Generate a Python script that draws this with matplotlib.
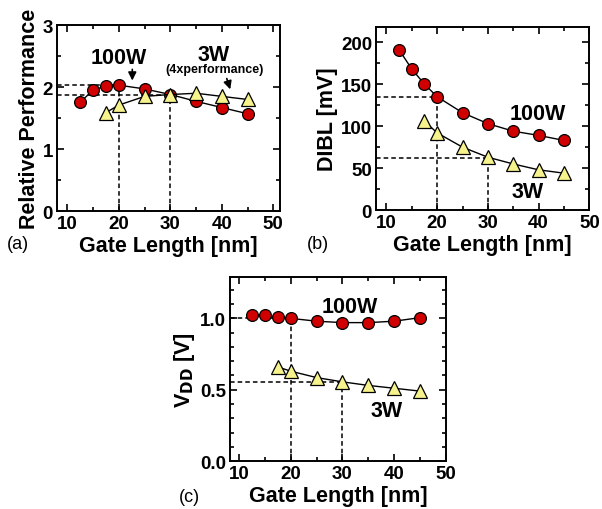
import numpy as np
import matplotlib.pyplot as plt
from matplotlib.ticker import MultipleLocator

plt.rcParams['font.family'] = ['Liberation Sans', 'DejaVu Sans']
plt.rcParams['font.weight'] = 'bold'

# Gate lengths [nm]
L_100W = [12.5, 15, 17.5, 20, 25, 30, 35, 40, 45]
L_3W = [17.5, 20, 25, 30, 35, 40, 45]

# (a) relative performance
perf_100W = [1.76, 1.95, 2.02, 2.03, 1.97, 1.88, 1.77, 1.67, 1.57]
perf_3W = [1.59, 1.71, 1.85, 1.88, 1.90, 1.85, 1.80]

# (b) DIBL [mV]
dibl_100W = [191, 168, 150, 135, 116, 103, 94, 89, 83]
dibl_3W = [106, 92, 75, 63, 55, 48, 44]

# (c) VDD [V]
vdd_100W = [1.02, 1.02, 1.01, 1.00, 0.98, 0.97, 0.97, 0.98, 1.005]
vdd_3W = [0.66, 0.63, 0.585, 0.555, 0.53, 0.51, 0.49]

# operating points marked by dashed guides: (x, y)
guides_a = [(20, 2.03), (30, 1.88)]
guides_b = [(20, 135), (30, 62)]
guides_c = [(20, 1.00), (30, 0.555)]

red = '#d00000'
yellow = '#f6f28c'

fig = plt.figure(figsize=(6.02, 5.10), dpi=100)
ax_a = fig.add_axes([0.095, 0.584, 0.370, 0.365])
ax_b = fig.add_axes([0.625, 0.586, 0.354, 0.359])
ax_c = fig.add_axes([0.382, 0.094, 0.359, 0.361])


def draw(ax, y100, y3, guides, xlim, ylim):
    for gx, gy in guides:
        ax.plot([xlim[0], gx], [gy, gy], ls=(0, (3, 2)), color='k', lw=1.1, zorder=1)
        ax.plot([gx, gx], [ylim[0], gy], ls=(0, (3, 2)), color='k', lw=1.1, zorder=1)
    ax.plot(L_100W, y100, '-', color='k', lw=1.0, marker='o', ms=8.5,
            mfc=red, mec='k', mew=0.9, zorder=3)
    ax.plot(L_3W, y3, '-', color='k', lw=1.0, marker='^', ms=9.5,
            mfc=yellow, mec='k', mew=0.9, zorder=3)
    ax.set_xlim(*xlim)
    ax.set_ylim(*ylim)
    ax.xaxis.set_major_locator(MultipleLocator(10))
    ax.xaxis.set_minor_locator(MultipleLocator(5))
    ax.tick_params(which='both', direction='in', top=True, right=True,
                   labelsize=13.5, width=1.2)
    ax.tick_params(which='major', length=5, pad=3)
    ax.tick_params(which='minor', length=3)
    for s in ax.spines.values():
        s.set_linewidth(1.4)
    ax.set_xlabel('Gate Length [nm]', fontsize=15.5, fontweight='bold', labelpad=2)


draw(ax_a, perf_100W, perf_3W, guides_a, (8, 51.3), (0, 3))
ax_a.yaxis.set_major_locator(MultipleLocator(1))
ax_a.yaxis.set_minor_locator(MultipleLocator(0.5))
ax_a.set_ylabel('Relative Performance', fontsize=15.5, fontweight='bold', labelpad=2)
ax_a.text(20, 2.48, '100W', fontsize=15.5, ha='center', va='center')
ax_a.text(38.5, 2.53, '3W', fontsize=15.5, ha='center', va='center')
ax_a.text(38.5, 2.29, '(4xperformance)', fontsize=9, ha='center', va='center')
ax_a.annotate('', xy=(22.6, 2.06), xytext=(22.6, 2.33),
              arrowprops=dict(arrowstyle='-|>', color='k', lw=1.2, mutation_scale=12))
ax_a.annotate('', xy=(41.8, 1.92), xytext=(40.8, 2.18),
              arrowprops=dict(arrowstyle='-|>', color='k', lw=1.2, mutation_scale=12))

draw(ax_b, dibl_100W, dibl_3W, guides_b, (8, 50), (0, 218))
ax_b.yaxis.set_major_locator(MultipleLocator(50))
ax_b.yaxis.set_minor_locator(MultipleLocator(25))
ax_b.set_ylabel('DIBL [mV]', fontsize=15.5, fontweight='bold', labelpad=2)
ax_b.text(39.8, 115, '100W', fontsize=15.5, ha='center', va='center')
ax_b.text(37.8, 22, '3W', fontsize=15.5, ha='center', va='center')

draw(ax_c, vdd_100W, vdd_3W, guides_c, (8.3, 50), (0, 1.29))
ax_c.yaxis.set_major_locator(MultipleLocator(0.5))
ax_c.yaxis.set_minor_locator(MultipleLocator(0.1))
ax_c.yaxis.set_major_formatter(plt.FormatStrFormatter('%.1f'))
ax_c.set_ylabel(r'V$_{\mathbf{DD}}$ [V]', fontsize=15.5, fontweight='bold', labelpad=2)
ax_c.text(31.5, 1.08, '100W', fontsize=15.5, ha='center', va='center')
ax_c.text(38.5, 0.355, '3W', fontsize=15.5, ha='center', va='center')

fig.text(0.03, 0.52, '(a)', fontsize=13, fontweight='normal', ha='center', va='center')
fig.text(0.528, 0.52, '(b)', fontsize=13, fontweight='normal', ha='center', va='center')
fig.text(0.315, 0.025, '(c)', fontsize=13, fontweight='normal', ha='center', va='center')

fig.savefig('out.png', dpi=100)
